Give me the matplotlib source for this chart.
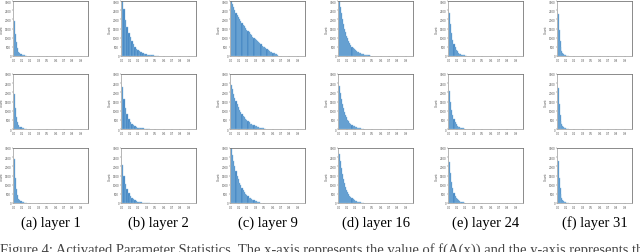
import numpy as np
import matplotlib
matplotlib.use('Agg')
import matplotlib.pyplot as plt

#panel captions
letters = ['a', 'b', 'c', 'd', 'e', 'f']
layers = [1, 2, 9, 16, 24, 31]

#histogram bar heights (share of y-range), one list per panel, row 1..3
layer1_row1 = [0.63, 0.40, 0.25, 0.14, 0.08, 0.05, 0.03, 0.02, 0.015, 0.01, 0.008, 0.005]
layer1_row2 = [0.64, 0.38, 0.22, 0.12, 0.07, 0.045, 0.03, 0.02, 0.012, 0.008, 0.006, 0.004]
layer1_row3 = [0.80, 0.45, 0.25, 0.14, 0.08, 0.05, 0.03, 0.02, 0.012, 0.008, 0.005, 0.003]

layer2_row1 = [1.0, 0.85, 0.66, 0.52, 0.42, 0.34, 0.27, 0.21, 0.17, 0.135, 0.105, 0.085,
               0.067, 0.053, 0.042, 0.034, 0.027, 0.021, 0.017, 0.013, 0.01, 0.008, 0.006, 0.005]
layer2_row2 = [0.76, 0.55, 0.38, 0.27, 0.19, 0.13, 0.095, 0.068, 0.05, 0.036, 0.026, 0.019,
               0.014, 0.01, 0.008, 0.006, 0.004, 0.003]
layer2_row3 = [0.70, 0.50, 0.35, 0.25, 0.18, 0.13, 0.09, 0.065, 0.047, 0.034, 0.025, 0.018,
               0.013, 0.009, 0.007, 0.005, 0.004, 0.003]

layer9_row1 = [1.0, 0.94, 0.89, 0.84, 0.79, 0.75, 0.71, 0.67, 0.63, 0.60, 0.57, 0.54, 0.51,
               0.48, 0.45, 0.43, 0.40, 0.38, 0.35, 0.33, 0.31, 0.29, 0.27, 0.25, 0.23, 0.21,
               0.19, 0.17, 0.155, 0.14, 0.125, 0.11, 0.095, 0.08, 0.07, 0.06, 0.05, 0.04, 0.03, 0.02]
layer9_row2 = [0.80, 0.72, 0.64, 0.57, 0.51, 0.45, 0.40, 0.35, 0.31, 0.27, 0.24, 0.21, 0.18,
               0.16, 0.14, 0.12, 0.10, 0.088, 0.076, 0.065, 0.055, 0.046, 0.038, 0.031, 0.025,
               0.02, 0.016, 0.012, 0.009, 0.006]
layer9_row3 = [1.0, 0.88, 0.77, 0.67, 0.58, 0.50, 0.43, 0.37, 0.32, 0.27, 0.23, 0.195, 0.165,
               0.14, 0.12, 0.10, 0.085, 0.07, 0.058, 0.048, 0.039, 0.031, 0.024, 0.018, 0.013]

layer16_row1 = [1.0, 0.9, 0.78, 0.67, 0.58, 0.5, 0.43, 0.37, 0.32, 0.27, 0.23, 0.2, 0.17,
                0.145, 0.125, 0.105, 0.09, 0.077, 0.065, 0.055, 0.047, 0.04, 0.034, 0.029,
                0.024, 0.02, 0.017, 0.014, 0.011, 0.009]
layer16_row2 = [0.78, 0.66, 0.55, 0.46, 0.38, 0.31, 0.26, 0.21, 0.17, 0.14, 0.115, 0.093,
                0.075, 0.06, 0.048, 0.038, 0.03, 0.024, 0.019, 0.015, 0.012, 0.009, 0.007, 0.005]
layer16_row3 = [0.90, 0.77, 0.64, 0.53, 0.44, 0.36, 0.30, 0.24, 0.20, 0.16, 0.13, 0.105,
                0.085, 0.068, 0.054, 0.043, 0.034, 0.027, 0.021, 0.016, 0.012, 0.009, 0.007, 0.005]

layer24_row1 = [0.79, 0.58, 0.42, 0.30, 0.22, 0.16, 0.115, 0.083, 0.06, 0.043, 0.031, 0.022,
                0.016, 0.011, 0.008, 0.006]
layer24_row2 = [0.70, 0.50, 0.35, 0.25, 0.175, 0.125, 0.088, 0.062, 0.044, 0.031, 0.022,
                0.015, 0.011, 0.008]
layer24_row3 = [0.75, 0.54, 0.38, 0.27, 0.19, 0.135, 0.095, 0.067, 0.047, 0.033, 0.023,
                0.016, 0.011, 0.008]

layer31_row1 = [0.77, 0.48, 0.28, 0.16, 0.09, 0.055, 0.033, 0.02, 0.012, 0.008, 0.005, 0.003]
layer31_row2 = [0.75, 0.45, 0.26, 0.15, 0.085, 0.05, 0.03, 0.018, 0.011, 0.007, 0.004, 0.003]
layer31_row3 = [0.76, 0.46, 0.27, 0.155, 0.088, 0.052, 0.031, 0.019, 0.012, 0.007, 0.004, 0.003]

panels = [
    [layer1_row1, layer2_row1, layer9_row1, layer16_row1, layer24_row1, layer31_row1],
    [layer1_row2, layer2_row2, layer9_row2, layer16_row2, layer24_row2, layer31_row2],
    [layer1_row3, layer2_row3, layer9_row3, layer16_row3, layer24_row3, layer31_row3],
]

#bin width per column, x range is 0..1
bin_w = [0.015, 0.021, 0.016, 0.0143, 0.0156, 0.0125]

W, H = 640, 253
fig = plt.figure(figsize=(W / 100, H / 100), dpi=100)

col_left = [13, 121, 230, 338, 448, 557]
row_top = [2, 75, 149]
ax_w, ax_h = 75, 55

for r in range(3):
    for c in range(6):
        ax = fig.add_axes([col_left[c] / W, 1 - (row_top[r] + ax_h) / H, ax_w / W, ax_h / H])
        h = np.array(panels[r][c])
        x = np.arange(len(h)) * bin_w[c]
        ax.bar(x, h, width=bin_w[c], align='edge', color='#3c80bf',
               edgecolor='#8dbde2', linewidth=0.3)
        ax.set_xlim(-0.01, 1.0)
        ax.set_ylim(0, 1.0)
        ax.set_xticks(np.linspace(0, 0.9, 9))
        ax.set_xticklabels(['%.1f' % v for v in np.linspace(0, 0.9, 9)])
        ax.set_yticks(np.linspace(0, 1.0, 7))
        ax.set_yticklabels([str(int(v)) for v in np.linspace(0, 3000, 7)])
        ax.tick_params(labelsize=2.0, length=0.8, width=0.3, pad=0.5, colors='#555555')
        ax.set_ylabel('Count', fontsize=2.2, labelpad=0.5, color='#555555')
        for s in ax.spines.values():
            s.set_linewidth(0.6)
            s.set_color('#aaaaaa')
        ax.spines['right'].set_color('#777777')
        ax.spines['top'].set_color('#777777')

for c in range(6):
    cx = (col_left[c] + ax_w / 2) / W
    fig.text(cx, 1 - 223 / H, '(%s) layer %d' % (letters[c], layers[c]),
             ha='center', va='center', fontsize=10.5, family='Liberation Serif')

#figure caption, cut at the bottom edge as in the page crop
fig.text(0.0, 1 - 250 / H,
         'Figure 4: Activated Parameter Statistics. The x-axis represents the value of f(A(x)) and the y-axis represents the',
         ha='left', va='center', fontsize=10.5, family='Liberation Serif', color='#444444')

fig.savefig('out.png', dpi=100)
